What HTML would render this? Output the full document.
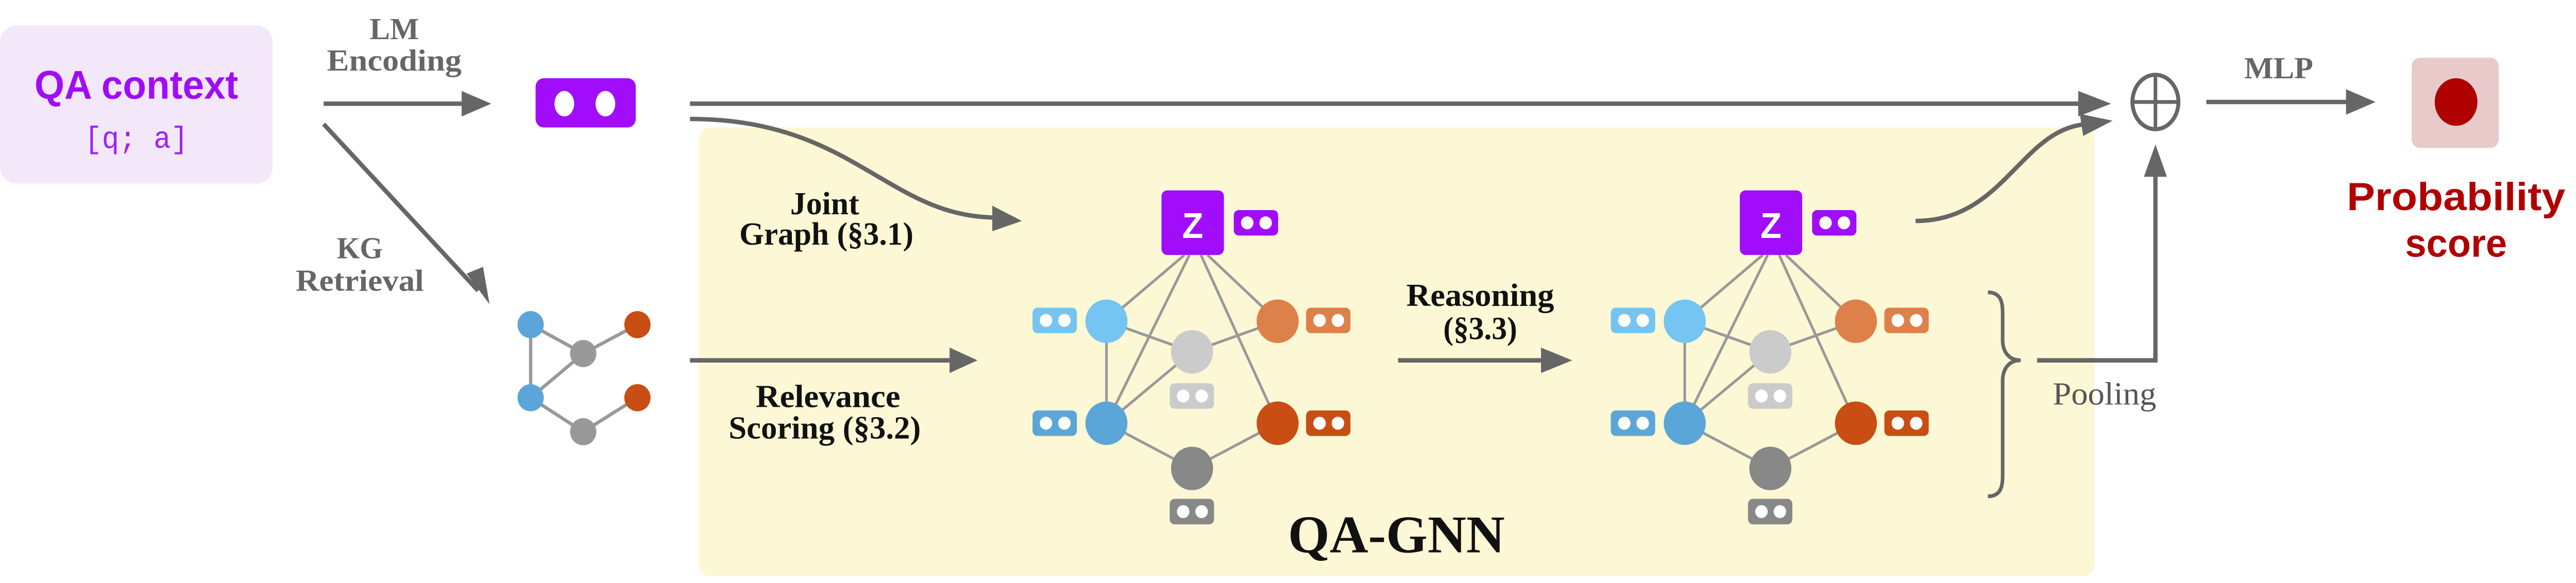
<!DOCTYPE html>
<html><head><meta charset="utf-8"><style>
html,body{margin:0;padding:0;background:#fff;overflow:hidden;width:100%;height:100%;}
svg{display:block;position:absolute;left:0;top:0;width:100vw;height:100vh;}
</style></head><body>
<svg xmlns="http://www.w3.org/2000/svg" viewBox="0 0 1568 343" preserveAspectRatio="none">
<rect x="0" y="0" width="1568" height="343" fill="#fff"/>
<rect x="425" y="75" width="850" height="264" rx="7" fill="#fcf8d5"/>
<rect x="0" y="15" width="166" height="93" rx="10" fill="#f3e8f9"/>
<text x="83" y="58" text-anchor="middle" font-family="Liberation Sans, sans-serif" font-weight="bold" font-size="23.5" fill="#a00cf7" textLength="124" lengthAdjust="spacingAndGlyphs">QA context</text>
<text x="83" y="87" text-anchor="middle" font-family="Liberation Mono, monospace" font-size="18" fill="#a020f0" textLength="63" lengthAdjust="spacingAndGlyphs">[q; a]</text>

<g font-family="Liberation Serif, serif" font-weight="bold" fill="#666" font-size="18" text-anchor="middle">
<text x="240" y="23" textLength="30" lengthAdjust="spacingAndGlyphs">LM</text>
<text x="240" y="41.5" textLength="82" lengthAdjust="spacingAndGlyphs">Encoding</text>
<text x="219" y="152" textLength="28" lengthAdjust="spacingAndGlyphs">KG</text>
<text x="219" y="171" textLength="78" lengthAdjust="spacingAndGlyphs">Retrieval</text>
<text x="1387" y="46" textLength="42" lengthAdjust="spacingAndGlyphs">MLP</text>
</g>
<g font-family="Liberation Serif, serif" font-weight="bold" fill="#111" font-size="19" text-anchor="middle">
<text x="502" y="126" textLength="42" lengthAdjust="spacingAndGlyphs">Joint</text>
<text x="503" y="144" textLength="106" lengthAdjust="spacingAndGlyphs">Graph (§3.1)</text>
<text x="504" y="239.5" textLength="88" lengthAdjust="spacingAndGlyphs">Relevance</text>
<text x="502" y="258" textLength="117" lengthAdjust="spacingAndGlyphs">Scoring (§3.2)</text>
<text x="901" y="180" textLength="90" lengthAdjust="spacingAndGlyphs">Reasoning</text>
<text x="901" y="199.5" textLength="45" lengthAdjust="spacingAndGlyphs">(§3.3)</text>
</g>
<text x="850" y="325" text-anchor="middle" font-family="Liberation Serif, serif" font-weight="bold" font-size="31" fill="#111" textLength="132" lengthAdjust="spacingAndGlyphs">QA-GNN</text>
<text x="1281" y="238" text-anchor="middle" font-family="Liberation Serif, serif" font-size="19" fill="#555" textLength="63" lengthAdjust="spacingAndGlyphs">Pooling</text>

<g stroke="#666" stroke-width="2.6" fill="none">
<line x1="197" y1="61" x2="283" y2="61"/>
<line x1="197" y1="73" x2="291" y2="171"/>
<line x1="420" y1="61" x2="1268" y2="61"/>
<path d="M420,70 C520,70 540,128 607,128"/>
<line x1="420" y1="212" x2="580" y2="212"/>
<line x1="851" y1="212" x2="940" y2="212"/>
<path d="M1166,130 C1220,130 1230,76 1270,73"/>
<polyline points="1240,212 1312,212 1312,100"/>
<line x1="1343" y1="60" x2="1430" y2="60"/>
<path d="M1210,172 C1218,172 1219,178 1219,184 L1219,200 C1219,206 1222,212 1230,212 C1222,212 1219,218 1219,224 L1219,280 C1219,286 1218,292 1210,292" stroke-width="2.2"/>
<ellipse cx="1312" cy="60" rx="14" ry="16" stroke-width="2.4"/>
<line x1="1298" y1="60" x2="1326" y2="60" stroke-width="2.2"/>
<line x1="1312" y1="44" x2="1312" y2="76" stroke-width="2.2"/>
</g>
<g fill="#666">
<polygon points="281,53.5 299,61 281,68.5"/>
<polygon points="284,161 298,179 294,157"/>
<polygon points="604,121 622,130 604,136"/>
<polygon points="578,204.5 595,212 578,219.5"/>
<polygon points="938,204.5 957,212 938,219.5"/>
<polygon points="1265,53.5 1285,61 1265,68.5"/>
<polygon points="1266,67 1286,71 1268,80"/>
<polygon points="1305,104 1312,85 1319,104"/>
<polygon points="1428,52.5 1446,60 1428,67.5"/>
</g>

<rect x="326" y="46" width="61" height="29" rx="5" fill="#a10dfa"/>
<ellipse cx="343.5" cy="61" rx="6" ry="7.5" fill="#fff"/>
<ellipse cx="368.5" cy="61" rx="6" ry="7.5" fill="#fff"/>

<g stroke="#999" stroke-width="2">
<line x1="323" y1="191" x2="323" y2="234"/>
<line x1="323" y1="191" x2="355" y2="208"/>
<line x1="355" y1="208" x2="388" y2="191"/>
<line x1="355" y1="208" x2="323" y2="234"/>
<line x1="323" y1="234" x2="355" y2="254"/>
<line x1="355" y1="254" x2="388" y2="234"/>
</g>
<circle cx="323" cy="191" r="8" fill="#5ba6d8"/>
<circle cx="323" cy="234" r="8" fill="#5ba6d8"/>
<circle cx="388" cy="191" r="8" fill="#c84e14"/>
<circle cx="388" cy="234" r="8" fill="#c84e14"/>
<circle cx="355" cy="208" r="8" fill="#999"/>
<circle cx="355" cy="254" r="8" fill="#999"/>

<g>
<g stroke="#999" stroke-width="1.6">
<line x1="721" y1="150" x2="673.5" y2="189"/>
<line x1="724" y1="150" x2="673.5" y2="249"/>
<line x1="731" y1="150" x2="777.7" y2="249"/>
<line x1="735" y1="150" x2="777.7" y2="189"/>
<line x1="673.5" y1="189" x2="725.6" y2="207"/>
<line x1="725.6" y1="207" x2="777.7" y2="189"/>
<line x1="673.5" y1="189" x2="673.5" y2="249"/>
<line x1="725.6" y1="207" x2="673.5" y2="249"/>
<line x1="673.5" y1="249" x2="725.6" y2="275.6"/>
<line x1="725.6" y1="275.6" x2="777.7" y2="249"/>
</g>
<rect x="707" y="112" width="38" height="38" rx="3.5" fill="#a10dfa"/>
<text x="726" y="140" text-anchor="middle" font-family="Liberation Sans, sans-serif" font-weight="bold" font-size="21" fill="#fff">Z</text>
<rect x="751" y="123.6" width="27" height="15" rx="3" fill="#a10dfa"/><circle cx="759.2" cy="131.1" r="3.8" fill="#fff"/><circle cx="770.4" cy="131.1" r="3.8" fill="#fff"/>
<circle cx="673.5" cy="189" r="12.8" fill="#75c4f2"/>
<circle cx="725.6" cy="207" r="12.8" fill="#cbcbcb"/>
<circle cx="777.7" cy="189" r="12.8" fill="#de8049"/>
<circle cx="673.5" cy="249" r="12.8" fill="#5ba6d8"/>
<circle cx="777.7" cy="249" r="12.8" fill="#c84e14"/>
<circle cx="725.6" cy="275.6" r="12.8" fill="#888"/>
<rect x="628.5" y="181" width="27" height="15" rx="3" fill="#75c4f2"/><circle cx="636.7" cy="188.5" r="3.8" fill="#fff"/><circle cx="647.9" cy="188.5" r="3.8" fill="#fff"/>
<rect x="795" y="181" width="27" height="15" rx="3" fill="#de8049"/><circle cx="803.2" cy="188.5" r="3.8" fill="#fff"/><circle cx="814.4" cy="188.5" r="3.8" fill="#fff"/>
<rect x="712" y="225.5" width="27" height="15" rx="3" fill="#cbcbcb"/><circle cx="720.2" cy="233" r="3.8" fill="#fff"/><circle cx="731.4" cy="233" r="3.8" fill="#fff"/>
<rect x="628.5" y="241.5" width="27" height="15" rx="3" fill="#5ba6d8"/><circle cx="636.7" cy="249" r="3.8" fill="#fff"/><circle cx="647.9" cy="249" r="3.8" fill="#fff"/>
<rect x="795" y="241.5" width="27" height="15" rx="3" fill="#c84e14"/><circle cx="803.2" cy="249" r="3.8" fill="#fff"/><circle cx="814.4" cy="249" r="3.8" fill="#fff"/>
<rect x="712" y="293.5" width="27" height="15" rx="3" fill="#888"/><circle cx="720.2" cy="301" r="3.8" fill="#fff"/><circle cx="731.4" cy="301" r="3.8" fill="#fff"/>
</g>

<g transform="translate(352,0)">
<g stroke="#999" stroke-width="1.6">
<line x1="721" y1="150" x2="673.5" y2="189"/>
<line x1="724" y1="150" x2="673.5" y2="249"/>
<line x1="731" y1="150" x2="777.7" y2="249"/>
<line x1="735" y1="150" x2="777.7" y2="189"/>
<line x1="673.5" y1="189" x2="725.6" y2="207"/>
<line x1="725.6" y1="207" x2="777.7" y2="189"/>
<line x1="673.5" y1="189" x2="673.5" y2="249"/>
<line x1="725.6" y1="207" x2="673.5" y2="249"/>
<line x1="673.5" y1="249" x2="725.6" y2="275.6"/>
<line x1="725.6" y1="275.6" x2="777.7" y2="249"/>
</g>
<rect x="707" y="112" width="38" height="38" rx="3.5" fill="#a10dfa"/>
<text x="726" y="140" text-anchor="middle" font-family="Liberation Sans, sans-serif" font-weight="bold" font-size="21" fill="#fff">Z</text>
<rect x="751" y="123.6" width="27" height="15" rx="3" fill="#a10dfa"/><circle cx="759.2" cy="131.1" r="3.8" fill="#fff"/><circle cx="770.4" cy="131.1" r="3.8" fill="#fff"/>
<circle cx="673.5" cy="189" r="12.8" fill="#75c4f2"/>
<circle cx="725.6" cy="207" r="12.8" fill="#cbcbcb"/>
<circle cx="777.7" cy="189" r="12.8" fill="#de8049"/>
<circle cx="673.5" cy="249" r="12.8" fill="#5ba6d8"/>
<circle cx="777.7" cy="249" r="12.8" fill="#c84e14"/>
<circle cx="725.6" cy="275.6" r="12.8" fill="#888"/>
<rect x="628.5" y="181" width="27" height="15" rx="3" fill="#75c4f2"/><circle cx="636.7" cy="188.5" r="3.8" fill="#fff"/><circle cx="647.9" cy="188.5" r="3.8" fill="#fff"/>
<rect x="795" y="181" width="27" height="15" rx="3" fill="#de8049"/><circle cx="803.2" cy="188.5" r="3.8" fill="#fff"/><circle cx="814.4" cy="188.5" r="3.8" fill="#fff"/>
<rect x="712" y="225.5" width="27" height="15" rx="3" fill="#cbcbcb"/><circle cx="720.2" cy="233" r="3.8" fill="#fff"/><circle cx="731.4" cy="233" r="3.8" fill="#fff"/>
<rect x="628.5" y="241.5" width="27" height="15" rx="3" fill="#5ba6d8"/><circle cx="636.7" cy="249" r="3.8" fill="#fff"/><circle cx="647.9" cy="249" r="3.8" fill="#fff"/>
<rect x="795" y="241.5" width="27" height="15" rx="3" fill="#c84e14"/><circle cx="803.2" cy="249" r="3.8" fill="#fff"/><circle cx="814.4" cy="249" r="3.8" fill="#fff"/>
<rect x="712" y="293.5" width="27" height="15" rx="3" fill="#888"/><circle cx="720.2" cy="301" r="3.8" fill="#fff"/><circle cx="731.4" cy="301" r="3.8" fill="#fff"/>
</g>

<rect x="1468" y="34" width="53" height="53" rx="5" fill="#e8caca"/>
<ellipse cx="1495" cy="60" rx="13" ry="14" fill="#b00000"/>
<text x="1495" y="123.6" text-anchor="middle" font-family="Liberation Sans, sans-serif" font-weight="bold" font-size="23" fill="#b00000" textLength="133" lengthAdjust="spacingAndGlyphs">Probability</text>
<text x="1495" y="151" text-anchor="middle" font-family="Liberation Sans, sans-serif" font-weight="bold" font-size="23" fill="#b00000" textLength="62" lengthAdjust="spacingAndGlyphs">score</text>
</svg>
</body></html>
